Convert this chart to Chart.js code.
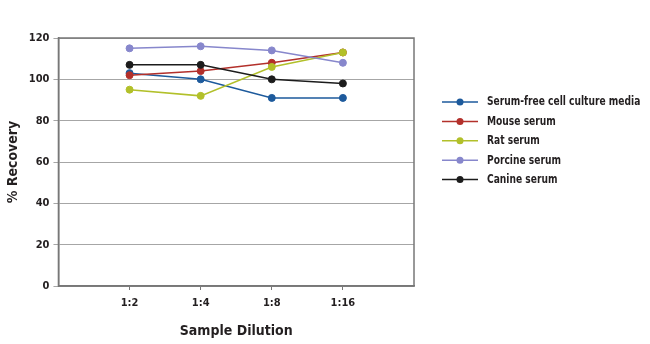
<!DOCTYPE html>
<html>
<head>
<meta charset="utf-8">
<script src="https://cdn.jsdelivr.net/npm/chart.js@4"></script>
<style>
  html, body { margin: 0; padding: 0; background: #fff; }
  #wrap { width: 650px; height: 344px; }
</style>
</head>
<body>
<div id="wrap"><canvas id="grafico"></canvas></div>
<script>
// dados
const categories = ['1:2', '1:4', '1:8', '1:16'];
const serumFree = [103, 100, 91, 91];
const mouse = [102, 104, 108, 113];
const rat = [95, 92, 106, 113];
const porcine = [115, 116, 114, 108];
const canine = [107, 107, 100, 98];
const seriesNames = ['Serum-free cell culture media', 'Mouse serum', 'Rat serum', 'Porcine serum', 'Canine serum'];
const seriesValues = [serumFree, mouse, rat, porcine, canine];
const seriesColors = ['#1d5a9c', '#b3302b', '#b2c02a', '#8787cc', '#1c1c1c'];
const yTicks = [0, 20, 40, 60, 80, 100, 120];

const fontFamily = '"Liberation Sans Narrow", "DejaVu Sans Condensed", "Roboto Condensed", sans-serif';

// moldura da área do gráfico
const framePlugin = {
    id: 'frame',
    beforeDatasetsDraw(chart) {
        const { ctx, chartArea: a } = chart;
        ctx.save();
        ctx.strokeStyle = '#777';
        ctx.lineWidth = 1.5;
        ctx.strokeRect(a.left, a.top, a.right - a.left, a.bottom - a.top);
        ctx.restore();
    }
};

// legenda com linha + marcador, como no original
const legendPlugin = {
    id: 'lineLegend',
    afterDraw(chart) {
        const ctx = chart.ctx;
        ctx.save();
        ctx.textBaseline = 'middle';
        chart.data.datasets.forEach((ds, i) => {
            const y = 102 + i * 19.4;
            ctx.strokeStyle = ds.borderColor;
            ctx.lineWidth = 1.5;
            ctx.beginPath();
            ctx.moveTo(442, y);
            ctx.lineTo(478, y);
            ctx.stroke();
            ctx.fillStyle = ds.backgroundColor;
            ctx.beginPath();
            ctx.arc(460, y, 3.5, 0, Math.PI * 2);
            ctx.fill();
            // texto comprimido para imitar a fonte condensada
            ctx.save();
            ctx.translate(487, y);
            ctx.scale(0.78, 1);
            ctx.font = 'bold 13px ' + fontFamily;
            ctx.fillStyle = '#231f20';
            ctx.fillText(ds.label, 0, 0);
            ctx.restore();
        });
        ctx.restore();
    }
};

const datasets = seriesNames.map((name, i) => ({
    label: name,
    data: seriesValues[i].map((v, j) => ({ x: j + 1, y: v })),
    borderColor: seriesColors[i],
    backgroundColor: seriesColors[i],
    pointBackgroundColor: seriesColors[i],
    pointBorderColor: seriesColors[i],
    borderWidth: 1.5,
    pointRadius: 3.5,
    pointBorderWidth: 1,
    tension: 0,
    order: seriesNames.length - i
}));

new Chart(document.getElementById('grafico'), {
    type: 'line',
    data: { datasets: datasets },
    plugins: [framePlugin, legendPlugin],
    options: {
        responsive: true,
        maintainAspectRatio: false,
        animation: false,
        layout: {
            padding: { left: 5, right: 236, top: 38, bottom: 4 }
        },
        scales: {
            x: {
                type: 'linear',
                min: 0,
                max: categories.length + 1,
                grid: {
                    drawOnChartArea: false,
                    drawTicks: true,
                    tickLength: 4,
                    color: (c) => (c.tick && (c.tick.value === 0 || c.tick.value === categories.length + 1)) ? 'rgba(0,0,0,0)' : '#777'
                },
                border: { color: '#777', width: 1.5 },
                ticks: {
                    stepSize: 1,
                    autoSkip: false,
                    maxRotation: 0,
                    padding: 7,
                    color: '#231f20',
                    font: { family: fontFamily, size: 11, weight: 'bold' },
                    callback: (v) => categories[v - 1] || ''
                },
                title: {
                    display: true,
                    text: 'Sample Dilution',
                    color: '#231f20',
                    font: { family: fontFamily, size: 14, weight: 'bold' },
                    padding: { top: 6, bottom: 0 }
                }
            },
            y: {
                min: 0,
                max: 120,
                afterBuildTicks: (axis) => { axis.ticks = yTicks.map(v => ({ value: v })); },
                grid: {
                    color: '#a6a6a6',
                    lineWidth: 1,
                    drawTicks: true,
                    tickLength: 5
                },
                border: { color: '#777', width: 1.5 },
                ticks: {
                    padding: 4,
                    color: '#231f20',
                    font: { family: fontFamily, size: 11, weight: 'bold' }
                },
                title: {
                    display: true,
                    text: '% Recovery',
                    color: '#231f20',
                    font: { family: fontFamily, size: 14, weight: 'bold' },
                    padding: { top: 0, bottom: 3 }
                }
            }
        },
        plugins: {
            legend: { display: false },
            tooltip: { enabled: false }
        }
    }
});
</script>
</body>
</html>
